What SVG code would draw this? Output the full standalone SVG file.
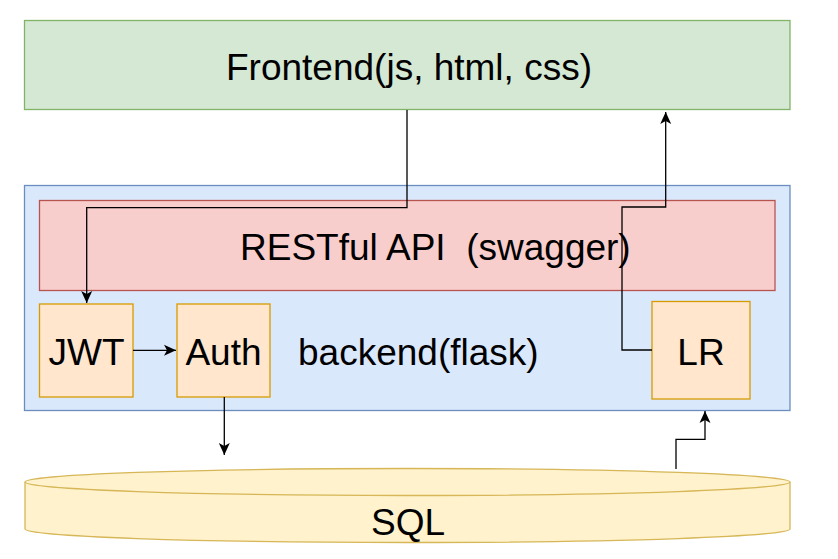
<svg xmlns="http://www.w3.org/2000/svg" width="838" height="559" viewBox="0 0 838 559">
<style>
text{font-family:"Liberation Sans",Arial,sans-serif;font-size:37px;fill:#000}
.box{stroke-width:1.3}
.fe{fill:#d5e8d4;stroke:#82b366}
.be{fill:#dae8fc;stroke:#6c8ebf}
.api{fill:#f8cecc;stroke:#b85450}
.mod{fill:#ffe6cc;stroke:#d79b00}
.db{fill:#fff2cc;stroke:#d6b656;stroke-width:1.3}
.edge{fill:none;stroke:#000;stroke-width:1.3}
</style>
<defs>
<marker id="arr" markerUnits="userSpaceOnUse" markerWidth="14" markerHeight="14" viewBox="0 0 14 14" refX="12.5" refY="7" orient="auto">
<path d="M0.5,1.5 L12.5,7 L0.5,12.5 L3.5,7 Z" fill="#000"/>
</marker>
</defs>
<rect width="838" height="559" fill="#fff"/>
<g id="frontend">
<rect class="box fe" x="24.5" y="20.5" width="765.5" height="89"/>
<text x="226" y="80">Frontend(js, html, css)</text>
</g>
<g id="backend">
<rect class="box be" x="24.5" y="185.5" width="765.5" height="225"/>
<text x="298" y="365">backend(flask)</text>
</g>
<g id="restful">
<rect class="box api" x="39.5" y="200.5" width="735.5" height="90"/>
<text x="240" y="260" xml:space="preserve">RESTful API&#160; (swagger)</text>
</g>
<g id="jwt">
<rect class="box mod" x="39.5" y="304" width="93.5" height="93"/>
<text x="86.5" y="365" text-anchor="middle">JWT</text>
</g>
<g id="auth">
<rect class="box mod" x="177" y="304" width="93" height="93"/>
<text x="223.5" y="365" text-anchor="middle">Auth</text>
</g>
<g id="lr">
<rect class="box mod" x="652" y="301.5" width="98" height="97.5"/>
<text x="701" y="365" text-anchor="middle">LR</text>
</g>
<g id="sql">
<path class="db" d="M25,482 A382.5,13.5 0 0 1 790,482 L790,529 A382.5,13.5 0 0 1 25,529 Z"/>
<path class="db" d="M25,482 A382.5,13.5 0 0 0 790,482" style="fill:none"/>
<text x="408" y="535" text-anchor="middle">SQL</text>
</g>
<g id="connectors">
<path class="edge" d="M407,110 V207.7 H86.7 V303" marker-end="url(#arr)"/>
<path class="edge" d="M133,350.3 H176" marker-end="url(#arr)"/>
<path class="edge" d="M224.3,397 V455" marker-end="url(#arr)"/>
<path class="edge" d="M652,350 H622 V207 H665.7 V112" marker-end="url(#arr)"/>
<path class="edge" d="M676,469 V439.3 H705 V411" marker-end="url(#arr)"/>
</g>
</svg>
